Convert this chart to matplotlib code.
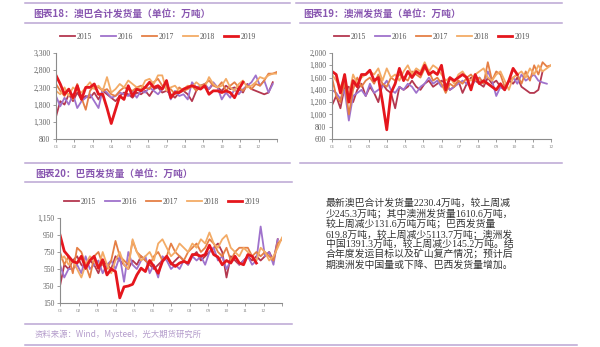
import matplotlib
matplotlib.use("Agg")
import matplotlib.pyplot as plt
from matplotlib.lines import Line2D
from matplotlib.ticker import FuncFormatter

# ---------------- data (weekly shipments, 10k tonnes) ----------------
years = ["2015", "2016", "2017", "2018", "2019"]

# 图表18：澳巴合计发货量
total_2015 = [1450, 1900, 1800, 2100, 1900, 2150, 1950, 2050, 2000, 2150, 1950, 2200, 2100,
              2000, 1900, 2050, 2150, 2100, 2000, 2150, 2100, 2200, 2050, 2250, 2300, 2150,
              2200, 2100, 2000, 2150, 2200, 2100, 1900, 2200, 2350, 2300, 2250, 2400, 2300,
              2200, 2350, 2250, 2300, 2250, 2150, 2400, 2250, 2200, 2150, 2100, 2150, 2450]
total_2016 = [2050, 1750, 2000, 1800, 2100, 1700, 1900, 2000, 2100, 1900, 1700, 2250, 2150,
              2000, 2050, 2150, 2100, 2050, 2200, 2000, 2200, 2150, 2300, 2200, 2100, 2250,
              2350, 1950, 2200, 2050, 2100, 1950, 2450, 2300, 2350, 2400, 2250, 2450, 2300,
              1950, 2150, 2000, 2250, 2100, 2250, 2350, 2450, 2650, 2350, 2500, 2150, 2400]
total_2017 = [2400, 2200, 2050, 2250, 1950, 2400, 2000, 1650, 2200, 2350, 2300, 2200, 2250,
              2100, 2050, 2200, 2300, 2250, 2200, 2300, 2350, 2300, 2250, 2450, 2550, 2350,
              2300, 2250, 2100, 2300, 2200, 2250, 2350, 2200, 2350, 2400, 2500, 2350, 2300,
              2450, 2200, 2350, 2450, 2300, 2200, 2350, 2250, 2400, 2350, 2500, 2700, 2700, 2750]
total_2018 = [2200, 2100, 2300, 2050, 2300, 2200, 2150, 2300, 2450, 2250, 2350, 2200, 2600,
              2150, 2250, 2400, 2300, 2500, 2400, 2300, 2250, 2500, 2550, 2400, 2650, 2650,
              2200, 2300, 2350, 2200, 2250, 2350, 2300, 2450, 2350, 2300, 2600, 2400, 2300,
              2350, 2550, 2300, 2200, 2400, 2500, 2300, 2350, 2450, 2600, 2550, 2650, 2700, 2700]
total_2019 = [2650, 2400, 2100, 2250, 2000, 2350, 1950, 2300, 2300, 2400, 2100, 2100, 1700,
              1250, 1650, 2050, 1950, 2350, 2050, 2250, 2200, 2300, 2450, 2300, 2350, 2250,
              2500, 2000, 2150, 2150, 2250, 2300, 2350, 2300, 2250, 2350, 2100, 2200, 2200,
              2150, 2200, 2150, 2000, 2250, 2450]

# 图表19：澳洲发货量
aus_2015 = [1150, 1300, 1100, 1450, 1450, 1200, 1400, 1500, 1300, 1450, 1350, 1200, 1500,
            1400, 1350, 1100, 1450, 1400, 1450, 1550, 1450, 1400, 1500, 1550, 1450, 1500,
            1550, 1500, 1400, 1450, 1550, 1350, 1500, 1600, 1550, 1500, 1450, 1600, 1500,
            1550, 1450, 1400, 1550, 1500, 1600, 1450, 1400, 1350, 1350, 1400, 1700]
aus_2016 = [1400, 1350, 1250, 1400, 900, 1300, 1350, 1400, 1300, 1500, 1350, 1400, 1450,
            1550, 1400, 1350, 1450, 1400, 1500, 1450, 1350, 1450, 1500, 1600, 1500, 1550,
            1450, 1500, 1400, 1450, 1500, 1550, 1500, 1450, 1550, 1600, 1500, 1700, 1550,
            1300, 1450, 1400, 1550, 1600, 1500, 1650, 1550, 1600, 1650, 1550, 1520, 1500]
aus_2017 = [1600, 1300, 1200, 1550, 1000, 1400, 1600, 1450, 1550, 1600, 1500, 1650, 1500,
            1450, 1600, 1550, 1650, 1600, 1550, 1700, 1650, 1600, 1750, 1700, 1550, 1600,
            1500, 1350, 1500, 1450, 1550, 1500, 1600, 1650, 1550, 1600, 1500, 1850, 1550,
            1700, 1650, 1450, 1550, 1600, 1650, 1500, 1700, 1550, 1800, 1650, 1850, 1780, 1800]
aus_2018 = [1650, 1550, 1450, 1600, 1300, 1650, 1500, 1600, 1650, 1700, 1650, 1750, 1550,
            1750, 1600, 1650, 1550, 1700, 1800, 1650, 1750, 1700, 1850, 1700, 1800, 1750,
            1650, 1550, 1600, 1500, 1650, 1700, 1600, 1550, 1650, 1700, 1750, 1600, 1550,
            1650, 1700, 1550, 1400, 1600, 1650, 1700, 1600, 1750, 1650, 1800, 1700, 1750, 1800]
aus_2019 = [1700, 1650, 1350, 1650, 1200, 1550, 1450, 1650, 1650, 1720, 1550, 1600, 1200,
            750, 1350, 1500, 1750, 1550, 1700, 1600, 1700, 1650, 1800, 1650, 1700, 1650,
            1800, 1400, 1600, 1550, 1600, 1650, 1600, 1400, 1650, 1500, 1550, 1500, 1450,
            1400, 1500, 1400, 1550, 1750, 1650]

# 图表20：巴西发货量
bra_2015 = [350, 600, 550, 650, 700, 600, 550, 650, 600, 500, 650, 600, 550, 700, 650, 600,
            550, 650, 600, 700, 650, 600, 550, 600, 650, 700, 600, 650, 700, 650, 600, 700,
            750, 650, 700, 750, 800, 850, 750, 450, 700, 650, 600, 650, 700, 650, 700, 650,
            700, 750, 650, 900]
bra_2016 = [600, 450, 550, 550, 600, 500, 700, 550, 600, 650, 500, 600, 650, 550, 700, 400,
            750, 600, 550, 650, 700, 500, 600, 450, 700, 650, 550, 600, 550, 650, 600, 700,
            650, 700, 600, 750, 800, 650, 700, 550, 650, 700, 600, 650, 700, 600, 650, 1050,
            700, 750, 600, 900]
bra_2017 = [750, 600, 700, 500, 800, 750, 600, 450, 700, 750, 600, 550, 650, 880, 700, 650,
            600, 880, 750, 700, 650, 600, 700, 750, 650, 700, 850, 750, 700, 650, 750, 800,
            850, 750, 800, 900, 850, 750, 700, 800, 650, 750, 800, 800, 800, 700, 750, 700,
            750, 700, 650, 850, 900]
bra_2018 = [650, 700, 600, 650, 550, 450, 600, 700, 650, 550, 750, 600, 500, 650, 750, 600,
            550, 900, 750, 650, 700, 750, 650, 850, 900, 800, 700, 750, 850, 800, 750, 850,
            800, 900, 850, 980, 850, 800, 900, 950, 800, 750, 700, 800, 750, 700, 650, 800,
            750, 650, 700, 800, 920]
bra_2019 = [950, 760, 700, 640, 620, 700, 560, 650, 700, 560, 660, 480, 550, 520, 210, 340,
            350, 370, 480, 560, 520, 650, 580, 500, 640, 700, 620, 580, 620, 640, 620, 720,
            720, 700, 720, 830, 720, 690, 600, 650, 620, 700, 620, 600, 720, 700, 620]

months_a = ["01", "02", "03", "04", "05", "06", "07", "08", "09", "10", "11", "12", ""]
months_b = ["01", "01", "03", "04", "05", "05", "06", "07", "08", "09", "10", "11", "12"]

colors = ["#B4374F", "#9F72CC", "#E57F45", "#F3AB66", "#E5161D"]
widths = [1.3, 1.3, 1.3, 1.3, 2.0]

W, H = 600, 347
fig = plt.figure(figsize=(W / 100, H / 100), dpi=100)

SERIF = "Liberation Serif"
CJK = ["Noto Sans CJK SC", "DejaVu Sans"]
TITLE_C = "#8856B0"
RULE_C = "#BBA6D3"
TICK_C = "#606060"


def fx(x):
    return x / W


def fy(y):
    return 1 - y / H


def rule(x0, x1, y, color=RULE_C, lw=1.1):
    fig.add_artist(Line2D([fx(x0), fx(x1)], [fy(y), fy(y)], transform=fig.transFigure,
                          color=color, lw=lw))


def panel(box, series, ylim, ystep, xlabels, legend_xy):
    x0, y0, x1, y1 = box
    ax = fig.add_axes([fx(x0), fy(y1), fx(x1 - x0), (y1 - y0) / H])
    handles = []
    for name, vals, c, lw in zip(years, series, colors, widths):
        h, = ax.plot(range(len(vals)), vals, color=c, lw=lw, solid_joinstyle="round",
                     label=name)
        handles.append(h)
    ax.set_xlim(0, 52)
    ax.set_ylim(*ylim)
    ax.set_yticks(range(ylim[0], ylim[1] + 1, ystep))
    ax.yaxis.set_major_formatter(FuncFormatter(lambda v, p: f"{int(v):,}"))
    ax.set_xticks([52 * i / 12 for i in range(13)])
    ax.set_xticklabels(xlabels)
    for s in ("top", "right"):
        ax.spines[s].set_visible(False)
    for s in ("left", "bottom"):
        ax.spines[s].set_color("#8C8C8C")
        ax.spines[s].set_linewidth(0.8)
    ax.tick_params(axis="y", length=2, width=0.6, color="#8C8C8C", pad=2,
                   labelsize=5.5, labelcolor=TICK_C)
    ax.tick_params(axis="x", length=2, width=0.6, color="#8C8C8C", pad=2.5,
                   labelsize=3.8, labelcolor="#8A8A8A")
    for lab in ax.get_xticklabels() + ax.get_yticklabels():
        lab.set_fontfamily(SERIF)
    ax.patch.set_alpha(0)
    fig.legend(handles=handles, loc="center", bbox_to_anchor=(fx(legend_xy[0]), fy(legend_xy[1])),
               ncol=5, frameon=False, handlelength=1.95, handletextpad=0.3, columnspacing=1.1,
               prop={"family": SERIF, "size": 5.5}, labelcolor="#555555")
    return ax


# ---------------- page rules ----------------
rule(25, 290, 3)
rule(296, 562, 3)
rule(25, 290, 22.5)
rule(300, 562, 22.5)
rule(25, 290, 163)
rule(300, 562, 163)
rule(25, 292, 182)
rule(25, 292, 324)
rule(25, 577, 344.5)

# ---------------- titles ----------------
fig.text(fx(33), fy(13.5), "图表18：澳巴合计发货量（单位：万吨）", family=CJK, size=7,
         color=TITLE_C, weight="bold", va="center")
fig.text(fx(303), fy(13.5), "图表19：澳洲发货量（单位：万吨）", family=CJK, size=7,
         color=TITLE_C, weight="bold", va="center")
fig.text(fx(35), fy(174), "图表20：巴西发货量（单位：万吨）", family=CJK, size=7,
         color=TITLE_C, weight="bold", va="center")

# ---------------- charts ----------------
panel((56, 53, 277, 139), [total_2015, total_2016, total_2017, total_2018, total_2019],
      (800, 3300), 500, months_a, (158, 37))
panel((332, 53, 551, 139), [aus_2015, aus_2016, aus_2017, aus_2018, aus_2019],
      (600, 2000), 200, months_b, (432, 37))
panel((60, 218, 282, 303), [bra_2015, bra_2016, bra_2017, bra_2018, bra_2019],
      (150, 1150), 200, months_a, (162, 202))

# ---------------- source and commentary ----------------
fig.text(fx(35), fy(334), "资料来源：Wind，Mysteel，光大期货研究所", family=CJK, size=6,
         color="#B49CCB", va="center", style="italic")

notes = [
    "最新澳巴合计发货量2230.4万吨，较上周减",
    "少245.3万吨；其中澳洲发货量1610.6万吨，",
    "较上周减少131.6万吨万吨；巴西发货量",
    "619.8万吨，较上周减少5113.7万吨；澳洲发",
    "中国1391.3万吨，较上周减少145.2万吨。结",
    "合年度发运目标以及矿山复产情况；预计后",
    "期澳洲发中国量或下降、巴西发货量增加。",
]
note_y = [203, 213.3, 223.6, 234, 244.3, 254.6, 265]
for s, y in zip(notes, note_y):
    fig.text(fx(326), fy(y), s, family=["Liberation Serif", "Noto Sans CJK SC"], size=7.1,
             color="#333333", va="center")

fig.savefig("out.png", dpi=100)
